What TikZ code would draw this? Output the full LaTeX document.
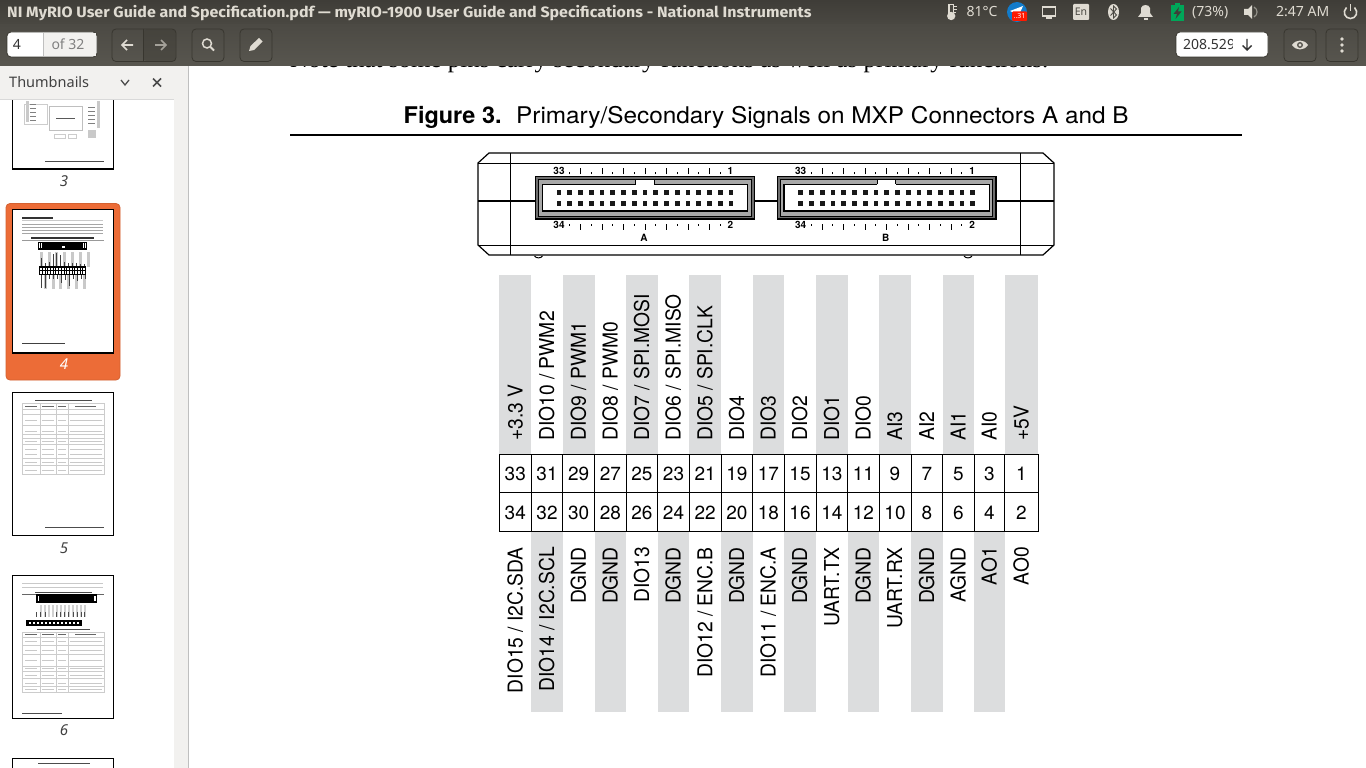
\documentclass[tikz,border=0pt]{standalone}
\usepackage{fontspec}
\newfontfamily\uif{Noto Sans}
\newfontfamily\uib[FakeStretch=1.065]{Fira Sans}
\newfontfamily\heros{TeX Gyre Heros}
\newfontfamily\heroswide[FakeStretch=1.058]{TeX Gyre Heros}
\newfontfamily\herosbold[FakeStretch=1.02]{TeX Gyre Heros}
\newfontfamily\herosnarrow[FakeStretch=.94]{TeX Gyre Heros}
\newfontfamily\tms{Liberation Serif}
\newcommand{\slsh}{/}
\newcommand{\fs}[1]{\fontsize{#1}{#1}\selectfont}
\definecolor{stripe}{HTML}{DCDDDE}
\definecolor{barA}{HTML}{3F3D38}
\definecolor{barB}{HTML}{4A4842}
\definecolor{toolA}{HTML}{4C4A44}
\definecolor{toolB}{HTML}{58564F}
\definecolor{panel}{HTML}{F2F1EF}
\definecolor{uitext}{HTML}{DFDBD2}
\definecolor{btnline}{HTML}{38362F}
\definecolor{orangecard}{HTML}{EC6C37}
\definecolor{blur}{HTML}{C9C9C9}
\definecolor{conngray}{HTML}{6E6E6E}
\definecolor{connlight}{HTML}{A8A8A8}
\tikzset{
  sig/.style={font=\herosnarrow\fs{20.5},text=black,rotate=90,inner sep=0pt},
  pincell/.style={draw=black,line width=1pt,inner sep=0pt,minimum height=37.5pt,font=\heros\fs{19},text depth=0pt},
  connlab/.style={font=\heros\bfseries\fs{10},inner sep=0pt,anchor=base},
  uibtn/.style={draw=btnline,line width=.8pt,rounded corners=4pt},
  uilab/.style={font=\uif\fs{14},text=uitext,inner sep=0pt,anchor=base west},
  thumbpage/.style={draw=black,line width=1.3pt,fill=white},
  tline/.style={draw=blur,line width=.9pt},
  dline/.style={draw=black!65,line width=1pt},
}
\newcommand{\mxpconn}[2]{%
\begin{scope}[xshift=#1pt]
  \draw[black,line width=1.1pt,fill=conngray] (535.7,176.7) rectangle (754.3,219);
  \draw[black,line width=1pt,fill=connlight] (538.8,179.6) rectangle (751.2,216);
  \draw[black,line width=1.3pt,fill=white] (542.3,184.3) rectangle (747.7,211);
  \fill[white] (635.7,179.2) rectangle (654,184.9);
  \draw[black,line width=1pt] (635.7,184.3) -- (635.7,179.2) -- (654,179.2) -- (654,184.3);
  \foreach \k in {0,...,16} {
    \fill[black!90] ({559+10.75*\k-2.4},189.9) rectangle ++(4.8,4.8);
    \fill[black!90] ({559+10.75*\k-2.4},200.9) rectangle ++(4.8,4.8);
  }
  \foreach \k in {1,3,...,15} {
    \draw[black,line width=1pt] ({559+10.75*\k},174.3) -- ({559+10.75*\k},171.6);
    \draw[black,line width=1pt] ({559+10.75*\k},224) -- ({559+10.75*\k},226.4);
  }
  \foreach \k in {2,4,...,14} {
    \draw[black,line width=1pt] ({559+10.75*\k},174.3) -- ({559+10.75*\k},167.8);
    \draw[black,line width=1pt] ({559+10.75*\k},224) -- ({559+10.75*\k},230);
  }
  \node[connlab] (n33#2) at (559,174.3) {33};
  \node[connlab] (n1#2) at (730.5,174.3) {1};
  \node[connlab] (n34#2) at (559,228.8) {34};
  \node[connlab] (n2#2) at (730.5,228.8) {2};
  \node[connlab] (name#2) at (644,241.5) {#2};
\end{scope}}
\begin{document}
\begin{tikzpicture}[x=1pt,y=-1pt]
\useasboundingbox (0,0) rectangle (1366,768);
\fill[white] (0,0) rectangle (1366,768);

% ---------- page text
\node[font=\tms\fs{25},inner sep=0pt,anchor=base west] (note) at (290,68) {Note that some pins carry secondary functions as well as primary functions.};
\node[font=\herosbold\bfseries\fs{23},inner sep=0pt,anchor=base west] (figno) at (403.5,123.5) {Figure 3.};
\node[font=\heroswide\fs{23},inner sep=0pt,anchor=base west] (figtitle) at (516,123.5) {Primary/Secondary Signals on MXP Connectors A and B};
\draw[black,line width=1.3pt] (290,135) -- (1241.5,135);

% ---------- device
\draw[black,line width=1.2pt] (489,153) -- (1043,153) -- (1054,163) -- (1054,245) -- (1043,255) -- (489,255) -- (478,245) -- (478,163) -- cycle;
\draw[black,line width=1pt] (478,163.3) -- (1054,163.3);
\draw[black,line width=1pt] (478,245) -- (1054,245);
\draw[black,line width=1.4pt] (510.7,153) -- (510.7,255);
\draw[black,line width=1.4pt] (1020.7,153) -- (1020.7,255);
\draw[black,line width=1.8pt] (478,201) -- (1054,201);
\draw[black,line width=1pt] (534.5,256) .. controls (536,258.5) and (541,258.5) .. (542.5,256);
\draw[black,line width=1pt] (964,256) .. controls (965.5,258.5) and (970.5,258.5) .. (972,256);
\mxpconn{0}{A}
\mxpconn{241.7}{B}

% ---------- stripes
\foreach \l/\r in {499.3/531.3,562.7/594.7,626/657.7,689.3/721,752.7/784,816/847.7,879/911,942.7/974,1004.7/1038.3}
  \fill[stripe] (\l,275) rectangle (\r,455);
\foreach \l/\r in {531.3/562.7,594.7/626,657.7/689.3,721/752.7,784/816,847.7/879,911/942.7,974/1004.7}
  \fill[stripe] (\l,532) rectangle (\r,712);

% ---------- table and labels
\foreach \n/\l/\r/\lab in {33/499.3/531.3/+3.3 V,31/531.3/562.7/DIO10 \slsh{} PWM2,29/562.7/594.7/DIO9 \slsh{} PWM1,27/594.7/626/DIO8 \slsh{} PWM0,25/626/657.7/DIO7 \slsh{} SPI.MOSI,23/657.7/689.3/DIO6 \slsh{} SPI.MISO,21/689.3/721/DIO5 \slsh{} SPI.CLK,19/721/752.7/DIO4,17/752.7/784/DIO3,15/784/816/DIO2,13/816/847.7/DIO1,11/847.7/879/DIO0,9/879/911/AI3,7/911/942.7/AI2,5/942.7/974/AI1,3/974/1004.7/AI0,1/1004.7/1038.3/+5V}{
  \pgfmathsetmacro{\cx}{(\l+\r)/2}
  \pgfmathsetmacro{\cwid}{\r-\l}
  \node[pincell,minimum width=\cwid pt] (cell\n) at (\cx,473.6) {\raisebox{-.6pt}{\n}};
  \node[sig,anchor=base west] (sig\n) at (\cx+7.2,441) {\lab};
}
\foreach \n/\l/\r/\lab in {34/499.3/531.3/DIO15 \slsh{} I2C.SDA,32/531.3/562.7/DIO14 \slsh{} I2C.SCL,30/562.7/594.7/DGND,28/594.7/626/DGND,26/626/657.7/DIO13,24/657.7/689.3/DGND,22/689.3/721/DIO12 \slsh{} ENC.B,20/721/752.7/DGND,18/752.7/784/DIO11 \slsh{} ENC.A,16/784/816/DGND,14/816/847.7/UART.TX,12/847.7/879/DGND,10/879/911/UART.RX,8/911/942.7/DGND,6/942.7/974/AGND,4/974/1004.7/AO1,2/1004.7/1038.3/AO0}{
  \pgfmathsetmacro{\cx}{(\l+\r)/2}
  \pgfmathsetmacro{\cwid}{\r-\l}
  \node[pincell,minimum width=\cwid pt,minimum height=39.5pt] (cell\n) at (\cx,512.2) {\raisebox{-.6pt}{\n}};
  \node[sig,anchor=base east] (sig\n) at (\cx+7.2,547) {\lab};
}

% ---------- sidebar
\fill[white] (0,66) rectangle (174,768);
\fill[panel] (174,66) rectangle (188,768);
\draw[black!25,line width=.8pt] (188.5,66) -- (188.5,768);

% thumbnail 3
\draw[thumbpage] (12.5,90) rectangle (113.5,169);
\fill[white] (11,90) rectangle (115,100);
\fill[blur] (25.5,101) rectangle (29,122);
\fill[blur] (97,101) rectangle (100,128);
\draw[black!25,line width=.5pt] (49,106) rectangle (82,130);
\draw[black!20,line width=.5pt] (24,104) rectangle (47,124);
\draw[black!20,line width=.5pt] (54,134) rectangle (65,138);
\draw[black!20,line width=.5pt] (68,134) rectangle (76,138);
\fill[blur] (88,130) rectangle (96,138);
\draw[dline] (56,118) -- (75,118);
\foreach \y in {104,108,112,116,120} {\draw[black!50,line width=.7pt] (30,\y) -- (36,\y); \draw[black!50,line width=.7pt] (88,\y+3) -- (95,\y+3);}
\draw[black!70,line width=1pt] (45,161) -- (104,161);
\node[font=\uif\itshape\fs{15},text=black!75,inner sep=0pt] (lab3) at (64,181) {3};

% thumbnail 4
\draw[orangecard!90!black,fill=orangecard,line width=.8pt,rounded corners=4pt] (6,203.5) rectangle (120,380);
\draw[thumbpage] (12.5,209.5) rectangle (113.5,353);
\draw[black!80,line width=2pt] (22,217.5) -- (53,217.5);
\draw[tline] (22,220.5) -- (103,220.5);
\foreach \y in {224,227,230,233} \draw[black!35,line width=.9pt] (22,\y) -- (103,\y);
\draw[black!80,line width=1.1pt] (31,238) -- (94,238);
\draw[black!40,line width=.5pt] (22,240.5) -- (104,240.5);
\fill[black] (37.7,241.5) rectangle (87.3,250);
\foreach \x in {39,41,83,85} \fill[white] (\x,243) rectangle (\x+1.2,248);
\fill[white] (62,246) rectangle (65,248);
\foreach \x in {39.5,47.5,55,63,71,79,87} \fill[blur] (\x,252) rectangle (\x+3,267);
\foreach \x in {43.5,51.5,59,67,75,83} \fill[blur] (\x,274.5) rectangle (\x+3,289);
\foreach \x/\t in {41.5/258,45/263,49/262,53/254,56/253,60/255,64/262,68/263,72/263,76/263,80/264,84/264} \draw[black!75,line width=.9pt] (\x,\t) -- (\x,266);
\foreach \x/\b in {41/288,45/288,49/279,53/279,57/279,61/283,65/280,69/286,73/279,77/281,81/279,85/279} \draw[black!75,line width=.9pt] (\x,275) -- (\x,\b);
\draw[black,line width=1.2pt,fill=white] (39.5,267) rectangle (85.5,274.5);
\draw[black,line width=.7pt] (39.5,270.7) -- (85.5,270.7);
\foreach \x in {42.2,45,47.7,50.4,53.1,55.8,58.5,61.2,63.9,66.6,69.3,72,74.7,77.4,80.1,82.8} \draw[black,line width=.7pt] (\x,267) -- (\x,274.5);
\draw[black!75,line width=1pt] (22,343) -- (65,343);
\node[font=\uif\itshape\fs{15},text=white,inner sep=0pt] (lab4) at (64,364) {4};

% thumbnail 5
\draw[thumbpage] (12.5,392.5) rectangle (113.5,535.5);
\draw[black!70,line width=1pt] (35,400) -- (92,400);
\draw[black!20,line width=.5pt] (22,403.5) rectangle (104.5,474);
\foreach \y in {409,414,425,434,438,444,458,465} \draw[black!20,line width=.5pt] (22,\y) -- (104.5,\y);
\foreach \x in {40,56,68} \draw[black!20,line width=.5pt] (\x,403.5) -- (\x,474);
\foreach \y in {420,431,441,449,454,462,470} {\draw[tline] (25,\y) -- (37,\y); \draw[tline] (42,\y) -- (54,\y); \draw[tline] (58,\y) -- (66,\y); \draw[tline] (70,\y) -- (102,\y);}
\draw[black!60,line width=.9pt] (25,406.5) -- (37,406.5) (42,406.5) -- (54,406.5) (58,406.5) -- (66,406.5) (75,406.5) -- (96,406.5);
\draw[black!70,line width=1pt] (45,527) -- (104,527);
\node[font=\uif\itshape\fs{15},text=black!75,inner sep=0pt] (lab5) at (64,548) {5};

% thumbnail 6
\draw[thumbpage] (12.5,575.5) rectangle (113.5,718.5);
\foreach \y in {583,587} \draw[tline] (22,\y) -- (103,\y);
\draw[black!70,line width=1pt] (35,592.5) -- (92,592.5);
\draw[black!60,line width=.5pt] (22,594.5) -- (104,594.5);
\fill[black] (36,594) rectangle (97,603);
\foreach \x in {37.5,94} \fill[white] (\x,596) rectangle (\x+1.5,601);
\foreach \x in {40,44,48,52,56,60,64,68,72,76,80,84} \fill[black!18] (\x,605) rectangle (\x+2,617);
\foreach \x in {36,40,45,56,60,64,68,73,77,81,84} \draw[black!70,line width=.8pt] (\x,612) -- (\x,617);
\fill[black] (26,620) rectangle (82,626);
\foreach \x in {29,33,37,41,45,49,53,57,61,65,69,73,77} \fill[white] (\x,622) rectangle (\x+1.5,624);
\draw[black!70,line width=1pt] (37,629) -- (90,629);
\draw[black!20,line width=.5pt] (22,632) rectangle (104,692);
\foreach \y in {637,645,654,666,671,678,686} \draw[black!20,line width=.5pt] (22,\y) -- (104,\y);
\foreach \x in {40,56,68} \draw[black!20,line width=.5pt] (\x,632) -- (\x,692);
\foreach \y in {641,650,660,668,675,683,689} {\draw[tline] (25,\y) -- (37,\y); \draw[tline] (42,\y) -- (54,\y); \draw[tline] (58,\y) -- (66,\y); \draw[tline] (70,\y) -- (102,\y);}
\draw[black!60,line width=.9pt] (25,634.5) -- (37,634.5) (42,634.5) -- (54,634.5) (58,634.5) -- (66,634.5) (75,634.5) -- (96,634.5);
\draw[black!70,line width=1pt] (22,713) -- (62,713);
\node[font=\uif\itshape\fs{15},text=black!75,inner sep=0pt] (lab6) at (64,730) {6};

% thumbnail 7
\draw[thumbpage] (12.5,758.5) rectangle (113.5,775);
\draw[black!70,line width=1pt] (38,763.5) -- (90,763.5);

% panel header
\fill[panel] (0,66) rectangle (174,99);
\draw[black!15,line width=.8pt] (0,99.5) -- (174,99.5);
\node[font=\uif\fs{14.5},text=black!75,inner sep=0pt,anchor=base west] (thumbs) at (9,88) {Thumbnails};
\draw[black!70,line width=1.3pt] (121,80) -- (125,85) -- (129,80);
\draw[black!70,line width=1.6pt] (153,78.5) -- (161,86.5) (161,78.5) -- (153,86.5);

% ---------- toolbars
\shade[top color=barA,bottom color=barB] (0,0) rectangle (1366,25);
\shade[top color=toolA,bottom color=toolB] (0,25) rectangle (1366,66);
\node[font=\uib\bfseries\fs{15},text=uitext,inner sep=0pt,anchor=base west] (wintitle) at (7,17.5) {NI MyRIO User Guide and Specification.pdf — myRIO-1900 User Guide and Specifications - National Instruments};

% page entry
\draw[btnline,fill=white,line width=.8pt,rounded corners=4pt] (7,32) rectangle (97,57);
\fill[panel] (43.5,33) rectangle (96,56);
\draw[black!25,line width=.6pt] (43.5,33) -- (43.5,56);
\node[font=\uif\fs{14},text=black!80,inner sep=0pt,anchor=base] (pageno) at (17,50) {4};
\node[font=\uif\fs{14},text=black!50,inner sep=0pt,anchor=base] (pageof) at (68,50) {of 32};
% nav
\draw[uibtn] (112,29) rectangle (176,61.5);
\fill[btnline,fill opacity=.35,rounded corners=3pt] (143.5,29.5) rectangle (175.5,61);
\draw[btnline,line width=.8pt] (143.5,29) -- (143.5,61.5);
\draw[uitext,line width=1.7pt] (133,45) -- (122,45) (127,40) -- (122,45) -- (127,50);
\draw[uitext!60!toolA,line width=1.7pt] (155,45) -- (166,45) (161,40) -- (166,45) -- (161,50);
\draw[uibtn] (192,29) rectangle (224,61.5);
\draw[uitext,line width=1.5pt] (207,43.5) circle (4.5);
\draw[uitext,line width=2pt] (210.5,47) -- (214,50.5);
\draw[uibtn] (240,29) rectangle (272,61.5);
\fill[uitext] (249,51) -- (250.5,46) -- (259,38) -- (262.5,41.5) -- (254,50) -- cycle;
% zoom box
\draw[btnline,fill=white,line width=.8pt,rounded corners=4pt] (1176,32) rectangle (1268,57);
\begin{scope}
  \clip (1180,32) rectangle (1232,57);
  \node[font=\uif\fs{14},text=black!80,inner sep=0pt,anchor=base west] (zoomv) at (1183,50) {208.529\%};
\end{scope}
\draw[black!80,line width=1.4pt] (1247,39) -- (1247,50) (1242.5,45.5) -- (1247,50) -- (1251.5,45.5);
\draw[uibtn] (1284,29) rectangle (1316,61.5);
\fill[uitext] (1292,45) .. controls (1296,39) and (1304,39) .. (1308,45) .. controls (1304,51) and (1296,51) .. (1292,45) -- cycle;
\fill[toolB] (1300,45) circle (3);
\fill[uitext] (1300,45) circle (1.6);
\draw[uibtn] (1326,29) rectangle (1358,61.5);
\foreach \y in {39,45,51} \fill[uitext] (1342,\y) circle (1.9);

% ---------- status icons
\draw[uitext,line width=1.3pt,fill=barB] (949,4.5) rectangle (953.5,14);
\draw[uitext,line width=1.4pt,fill=uitext] (951.2,16) circle (3.4);
\draw[uitext,line width=.8pt] (954,6) -- (957,6) (954,9) -- (957,9) (954,12) -- (956,12);
\node[uilab] (temp) at (966.5,17) {81°C};
\fill[cyan!60!blue] (1017,12) circle (10);
\fill[white] (1010,11) -- (1023,6) -- (1019,15) -- cycle;
\fill[red!80!orange,rounded corners=1pt] (1012,11.5) rectangle (1027,21);
\node[font=\uif\bfseries\fs{7},text=white,inner sep=0pt] (badge) at (1019.5,16) {..31};
\draw[uitext,line width=1.4pt] (1042.5,7) rectangle (1055.5,16);
\draw[uitext,line width=1.2pt] (1046,18) -- (1052,18);
\fill[uitext,rounded corners=1pt] (1073,4) rectangle (1089,20);
\node[font=\uif\fs{10.5},text=barB,inner sep=0pt] (lang) at (1081,12) {En};
\fill[uitext] (1113.5,12) ellipse (5.5 and 8);
\draw[barB,line width=.9pt] (1110.5,8.5) -- (1116.5,15) -- (1113.5,18) -- (1113.5,6) -- (1116.5,9) -- (1110.5,15.5);
\fill[uitext] (1138,17) -- (1141,13) -- (1141,8) .. controls (1142,4) and (1149,4) .. (1150,8) -- (1150,13) -- (1153,17) -- cycle;
\fill[uitext] (1143.5,18) rectangle (1147.5,20);
\fill[teal!70!green] (1171,5) rectangle (1184,21);
\fill[teal!70!green] (1175,3) rectangle (1180,5);
\fill[barA] (1179,7) -- (1173.5,14) -- (1177,14) -- (1175.5,19) -- (1181.5,11.5) -- (1178,11.5) -- cycle;
\node[uilab] (batt) at (1192,17) {(73\%)};
\fill[uitext] (1244,9) -- (1248,9) -- (1252,5) -- (1252,19) -- (1248,15) -- (1244,15) -- cycle;
\draw[uitext!50!barB,line width=1.2pt] (1254,7) .. controls (1258,9) and (1258,15) .. (1254,17);
\node[uilab] (clock) at (1276,17) {2:47 AM};
\draw[uitext,line width=1.6pt] (1346.5,7.5) .. controls (1342,12) and (1345,18.5) .. (1350.5,18.5) .. controls (1356,18.5) and (1359,12) .. (1354.5,7.5);
\draw[uitext,line width=1.6pt] (1350.5,4.5) -- (1350.5,11);
\end{tikzpicture}
\end{document}
